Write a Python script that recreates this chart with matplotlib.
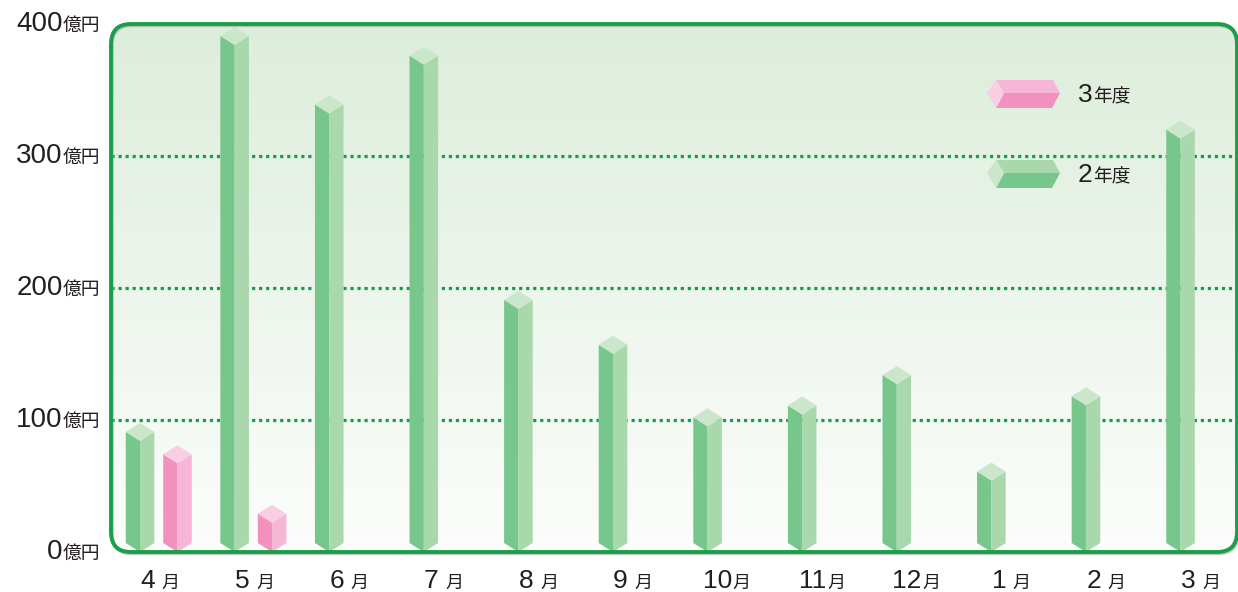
import matplotlib
matplotlib.use('Agg')

import numpy as np
import matplotlib.pyplot as plt
import matplotlib.transforms as mtransforms
from matplotlib.patches import FancyBboxPatch, Polygon

plt.rcParams['font.family'] = ['Liberation Sans', 'Noto Sans CJK JP']

# ---------------- data ----------------
months = ['4', '5', '6', '7', '8', '9', '10', '11', '12', '1', '2', '3']
fy2 = [91, 391, 339, 376, 191, 157, 102, 111, 134, 61, 118, 320]   # 2年度
fy3 = [74, 29, None, None, None, None, None, None, None, None, None, None]   # 3年度
yticks = [0, 100, 200, 300, 400]

green = {'left': '#77c68b', 'right': '#a8d8ac', 'top': '#cbe7cb'}
pink = {'left': '#f291be', 'right': '#f6b6d5', 'top': '#f9cde3'}
txt_color = '#231f20'

W, H = 1238, 592
fig = plt.figure(figsize=(W / 100, H / 100), dpi=100)
ax = fig.add_axes([111 / W, 40 / H, 1128 / W, 528 / H])
ax.set_xlim(-0.505, 11.42)
ax.set_ylim(0, 400)
ax.axis('off')


def px(x, y):
    # reference pixel -> inches (figure dpi scale)
    return (x / 100, (H - y) / 100)


# frame + background gradient
frame_kw = dict(boxstyle='round,pad=0,rounding_size=0.2', transform=fig.dpi_scale_trans)
clip = FancyBboxPatch(px(111, 552), 11.26, 5.28, **frame_kw)
top_c = np.array([221, 237, 219]) / 255
bot_c = np.array([252, 253, 252]) / 255
t = np.linspace(0, 1, 256)[:, None]
grad = (top_c * (1 - t) + bot_c * t)[:, None, :]
im = ax.imshow(grad, extent=(-0.505, 11.42, 0, 400), aspect='auto', zorder=0)
im.set_clip_path(clip)

for v in yticks[1:-1]:
    gl = ax.axhline(v, color='#14a04a', lw=2.3, ls=(0, (1, 1.2)), zorder=1)
    gl.set_clip_path(clip)

shadow = FancyBboxPatch((1.12, 0.385), 11.26, 5.28, fill=False, ec='#a0a0a0', lw=2.5,
                        alpha=0.6, zorder=4, clip_on=False, **frame_kw)
frame = FancyBboxPatch(px(111, 552), 11.26, 5.28, fill=False, ec='#17a049', lw=2.8,
                       zorder=5, clip_on=False, **frame_kw)
ax.add_patch(shadow)
ax.add_patch(frame)

# prism bars
w = 0.151
d = 6.8


def prism(cx, v, col):
    ax.add_patch(Polygon([(cx - w, v), (cx, v - d), (cx, 0), (cx - w, d)],
                         closed=True, fc=col['left'], ec='none', zorder=3))
    ax.add_patch(Polygon([(cx, v - d), (cx + w, v), (cx + w, d), (cx, 0)],
                         closed=True, fc=col['right'], ec='none', zorder=3))
    ax.add_patch(Polygon([(cx - w, v), (cx, v + d), (cx + w, v), (cx, v - d)],
                         closed=True, fc=col['top'], ec='none', zorder=3))


for i, v in enumerate(fy2):
    prism(i - 0.198, v, green)
for i, v in enumerate(fy3):
    if v is not None:
        prism(i + 0.198, v, pink)

# y labels
ylab_tr = mtransforms.blended_transform_factory(fig.dpi_scale_trans, ax.transData)
for v in yticks:
    ax.text(0.625, v - 5.5, str(v), transform=ylab_tr, ha='right', va='baseline',
            fontsize=20, color=txt_color, clip_on=False)
    ax.text(0.63, v - 5.5, '億円', transform=ylab_tr, ha='left', va='baseline',
            fontsize=13.5, color=txt_color, clip_on=False)

# x labels
xlab_tr = mtransforms.blended_transform_factory(ax.transData, fig.dpi_scale_trans)
for i, m in enumerate(months):
    if len(m) == 1:
        dx_num, dx_m = -0.04, 0.03
    else:
        dx_num, dx_m = 0.06, 0.07
    ax.text(i + dx_num, 0.04, m, transform=xlab_tr, ha='right', va='baseline',
            fontsize=19, color=txt_color, clip_on=False)
    ax.text(i + dx_m, 0.04, '月', transform=xlab_tr, ha='left', va='baseline',
            fontsize=13, color=txt_color, clip_on=False)

# legend
def legend_prism(yc, col, label):
    cap = [px(987, yc), px(996, yc - 13), px(1004, yc), px(996, yc + 15)]
    topf = [px(996, yc - 13), px(1053, yc - 13), px(1060, yc), px(1004, yc)]
    botf = [px(1004, yc), px(1060, yc), px(1052, yc + 15), px(996, yc + 15)]
    for pts, c in ((topf, col['right']), (botf, col['left']), (cap, col['top'])):
        ax.add_patch(Polygon(pts, closed=True, fc=c, ec='none', zorder=3,
                             transform=fig.dpi_scale_trans, clip_on=False))
    bx, by = px(1078, yc + 9)
    ax.text(bx, by, label, transform=fig.dpi_scale_trans, ha='left', va='baseline',
            fontsize=19, color=txt_color)
    ax.text(bx + 0.155, by, '年度', transform=fig.dpi_scale_trans, ha='left', va='baseline',
            fontsize=13.5, color=txt_color)


legend_prism(93, pink, '3')
legend_prism(173, green, '2')

fig.savefig('out.png', dpi=100)
